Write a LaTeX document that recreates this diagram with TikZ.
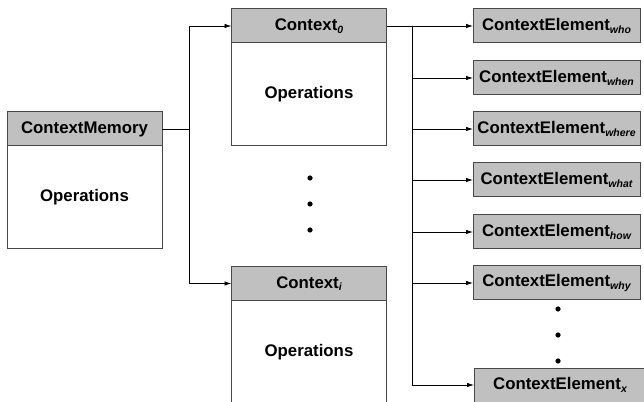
\documentclass[tikz,border=0pt]{standalone}
\usepackage{fontspec}
\setmainfont{Liberation Sans}
\usetikzlibrary{positioning,arrows.meta}

\definecolor{headgray}{RGB}{192,192,192}
\definecolor{edgegray}{RGB}{72,72,72}

\newcommand{\ctxsub}[1]{\raisebox{-0.3ex}{\fontsize{10.5}{10.5}\selectfont\itshape #1}}

\tikzset{
	header/.style={draw=edgegray, fill=headgray, line width=1pt, outer sep=0pt,
		inner sep=0pt, minimum width=155pt, minimum height=34pt,
		font=\fontsize{16.8}{18}\selectfont\bfseries},
	body/.style={draw=edgegray, fill=white, line width=1pt, outer sep=0pt,
		inner sep=0pt, minimum width=155pt, minimum height=103pt,
		font=\fontsize{16.8}{18}\selectfont\bfseries},
	element/.style={header, minimum width=167pt},
	arr/.style={-{Latex[length=7pt,width=4.5pt]}, line width=0.8pt},
	link/.style={line width=0.8pt},
}

\begin{document}
\begin{tikzpicture}[x=1pt, y=1pt]

	\useasboundingbox (0,0) rectangle (644,401);

	% --- Context memory ---
	\node[header] (cm) at (84.5,272) {ContextMemory};
	\node[body, below=0pt of cm] (cmops) {Operations};

	% --- Contexts ---
	\node[header] (ctx0) at (309,375) {Context\ctxsub{0}};
	\node[body, below=0pt of ctx0] (ctx0ops) {Operations};

	\node[header] (ctxi) at (309,117.5) {Context\ctxsub{i}};
	\node[body, below=0pt of ctxi] (ctxiops) {Operations};

	% --- Context elements ---
	\foreach \nm/\yy in {who/375, when/323, where/272, what/221, how/169, why/118} {
		\node[element] (\nm) at (556.5,\yy) {ContextElement\ctxsub{\nm}};
	}
	\node[element, minimum width=172pt] (cex) at (560,16) {ContextElement\ctxsub{x}};

	% --- Memory to contexts ---
	\draw[link] (cm.east) -- ++(27,0) coordinate (split1);
	\draw[arr] (split1) |- (ctx0.west);
	\draw[arr] (split1) |- (ctxi.west);

	% --- Context to elements ---
	\draw[link] (ctx0.east) -- ++(26,0) coordinate (split2);
	\foreach \nm in {who, when, where, what, how, why, cex} {
		\draw[arr] (split2) |- (\nm.west);
	}

	% --- Ellipsis dots ---
	\foreach \yy in {223, 197, 171} {
		\fill (310,\yy) circle (2.6pt);
	}
	\foreach \yy in {92, 66, 40} {
		\fill (558,\yy) circle (2.6pt);
	}

\end{tikzpicture}
\end{document}
